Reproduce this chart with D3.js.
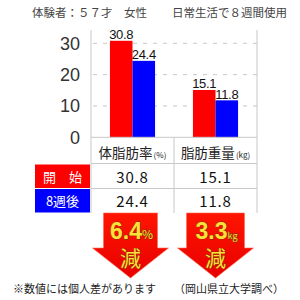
<!DOCTYPE html>
<html>
<head>
<meta charset="utf-8">
<script src="https://cdn.jsdelivr.net/npm/d3@7"></script>
<style>
  body { margin: 0; background: #fff; }
  text { font-family: "Noto Sans CJK JP", sans-serif; }
</style>
</head>
<body>
<script>
// chart data
var categories = ["体脂肪率", "脂肪重量"]
var units = ["(%)", "(kg)"]
var startVals = [30.8, 15.1]
var afterVals = [24.4, 11.8]
var rowLabels = ["開　始", "8週後"]
var yTicks = [0, 10, 20, 30]
var title1 = "体験者：５７才　女性"
var title2 = "日常生活で８週間使用"
var note1 = "※数値には個人差があります"
var note2 = "（岡山県立大学調べ）"

var width = 300, height = 300
var RED = "#ff0000", BLUE = "#0000ff", GRID = "#c8c8c8"

var svg = d3.select("body").append("svg")
    .attr("width", width)
    .attr("height", height)

var defs = svg.append("defs")
var grad = defs.append("linearGradient").attr("id", "arrowGrad")
    .attr("x1", 0).attr("y1", 0).attr("x2", 0).attr("y2", 1)
grad.append("stop").attr("offset", "0%").attr("stop-color", "#ff1500")
grad.append("stop").attr("offset", "100%").attr("stop-color", "#e80000")

var plotLeft = 91, plotRight = 257, plotTop = 30, tableBottom = 213

var x = d3.scaleBand().domain(categories).range([plotLeft, plotRight])
var xInner = d3.scaleBand().domain(["start", "after"]).range([0, x.bandwidth()]).paddingOuter(0.84)
var y = d3.scaleLinear().domain([0, 30]).range([137.3, 43.3])

// titles
svg.append("text").attr("x", 32).attr("y", 17).attr("font-size", "11.5px").attr("fill", "#444").text(title1)
svg.append("text").attr("x", 172).attr("y", 17).attr("font-size", "11.5px").attr("fill", "#444").text(title2)

// gridlines
svg.selectAll(".grid").data(yTicks.filter(d => d > 0)).enter().append("line")
    .attr("x1", plotLeft + 2).attr("x2", plotRight)
    .attr("y1", d => y(d)).attr("y2", d => y(d))
    .attr("stroke", GRID).attr("stroke-dasharray", "4,6")

// y tick labels
svg.selectAll(".ytick").data(yTicks).enter().append("text")
    .attr("x", 80).attr("y", d => y(d) + 6.5)
    .attr("text-anchor", "end")
    .style("font-family", "Liberation Sans, Arial, sans-serif")
    .attr("font-size", "18px").attr("fill", "#333")
    .text(d => d)

// bars
var groups = svg.selectAll(".cat").data(categories).enter().append("g")
    .attr("transform", d => "translate(" + x(d) + ",0)")

groups.each(function (c, i) {
    var g = d3.select(this)
    var pairs = [{ k: "start", v: startVals[i], c: RED }, { k: "after", v: afterVals[i], c: BLUE }]
    g.selectAll("rect").data(pairs).enter().append("rect")
        .attr("x", d => xInner(d.k))
        .attr("width", xInner.bandwidth())
        .attr("y", d => y(d.v))
        .attr("height", d => y(0) - y(d.v))
        .attr("fill", d => d.c)
    g.selectAll(".vlabel").data(pairs).enter().append("text")
        .attr("x", d => xInner(d.k) + xInner.bandwidth() / 2)
        .attr("y", d => y(d.v) - 1.5)
        .attr("text-anchor", "middle")
        .style("font-family", "Liberation Sans Narrow, Liberation Sans, Arial, sans-serif")
        .attr("font-size", "13px").attr("letter-spacing", "-0.3px").attr("fill", "#111")
        .text(d => d.v.toFixed(1))
})

// frame + table lines
var lines = [
    [plotLeft, plotTop, plotLeft, tableBottom],
    [plotRight, plotTop, plotRight, tableBottom],
    [x(categories[1]), y(0), x(categories[1]), tableBottom],
    [plotLeft, y(0), plotRight, y(0)],
    [plotLeft, 163.5, plotRight, 163.5],
    [plotLeft, 188.5, plotRight, 188.5]
]
svg.selectAll(".frame").data(lines).enter().append("line")
    .attr("x1", d => d[0]).attr("y1", d => d[1]).attr("x2", d => d[2]).attr("y2", d => d[3])
    .attr("stroke", GRID).attr("stroke-width", 1)

// table header
var header = svg.selectAll(".hdr").data(categories).enter().append("text")
    .attr("x", d => x(d) + x.bandwidth() / 2)
    .attr("y", 157.5)
    .attr("text-anchor", "middle")
    .attr("fill", "#222")
header.append("tspan").attr("font-size", "13.5px").text(d => d)
header.append("tspan").attr("font-size", "8px").attr("dx", 1).text((d, i) => units[i])

// row labels
var rowY = [164.5, 189]
var rowColors = [RED, BLUE]
rowLabels.forEach(function (lab, r) {
    svg.append("rect").attr("x", 35).attr("y", rowY[r]).attr("width", 55).attr("height", 23.5).attr("fill", rowColors[r])
    svg.append("text").attr("x", 62.5).attr("y", rowY[r] + 17)
        .attr("text-anchor", "middle").attr("font-size", "13px").attr("fill", "#fff").text(lab)
})

// table values
var rows = [startVals, afterVals]
rows.forEach(function (vals, r) {
    svg.selectAll(".tv" + r).data(categories).enter().append("text")
        .attr("x", d => x(d) + x.bandwidth() / 2)
        .attr("y", rowY[r] + 18)
        .attr("text-anchor", "middle")
        .attr("font-size", "15px").attr("letter-spacing", "0.8px").attr("fill", "#111")
        .text((d, i) => vals[i].toFixed(1))
})

// arrows
var arrowUnits = ["%", "kg"]
categories.forEach(function (c, i) {
    var cx = x(c) + x.bandwidth() / 2 - (i == 0 ? 2 : 0)
    var sw = i == 0 ? 27 : 29, hw = 38
    var top = 213, neck = 248, tip = 278
    var pts = [[cx - sw, top], [cx + sw, top], [cx + sw, neck], [cx + hw, neck], [cx, tip], [cx - hw, neck], [cx - sw, neck]]
    svg.append("path")
        .attr("d", d3.line()(pts) + "Z")
        .attr("fill", "url(#arrowGrad)")
        .attr("stroke", "#ff6a50").attr("stroke-width", 0.6)
    var diff = (startVals[i] - afterVals[i]).toFixed(1)
    var t = svg.append("text").attr("x", cx + 1).attr("y", 238.5).attr("text-anchor", "middle")
    t.append("tspan").text(diff)
        .attr("font-size", "23px").attr("font-weight", "bold")
        .style("font-family", "Liberation Sans Narrow, Liberation Sans, Arial, sans-serif")
    t.append("tspan").text(arrowUnits[i]).attr("font-size", i == 0 ? "12px" : "9px")
    t.attr("fill", "#ffe03a").attr("stroke", "#6b3a00").attr("stroke-width", 0.8).attr("paint-order", "stroke")
    svg.append("text").attr("x", cx).attr("y", 266).attr("text-anchor", "middle")
        .attr("font-size", "21px")
        .attr("fill", "#ffe03a").attr("stroke", "#6b3a00").attr("stroke-width", 0.7).attr("paint-order", "stroke")
        .text("減")
})

// notes
svg.append("text").attr("x", 13).attr("y", 293).attr("font-size", "11px").attr("fill", "#222").text(note1)
svg.append("text").attr("x", 174).attr("y", 293).attr("font-size", "11px").attr("fill", "#222").text(note2)
</script>
</body>
</html>
